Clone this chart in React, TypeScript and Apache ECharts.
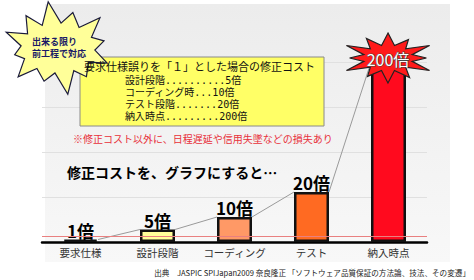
import React, { useEffect, useRef } from "react";
import * as echarts from "echarts";

const categories = ["要求仕様", "設計段階", "コーディング", "テスト", "納入時点"];
const costMultipliers = [1, 5, 10, 20, 200];
const barColors = ["#ffffff", "#ffff99", "#ff9966", "#ff6a22", "#ff0a1e"];
const referenceLevel = 2.4;
const boxTitle = "要求仕様誤りを「１」とした場合の修正コスト";
const boxLines = [
  "設計段階..........5倍",
  "コーディング時...10倍",
  "テスト段階.......20倍",
  "納入時点.........200倍",
];
const noteText = "※修正コスト以外に、日程遅延や信用失墜などの損失あり";
const headline = "修正コストを、グラフにすると…";
const burstLines = ["出来る限り", "前工程で対応"];
const sourceText = "出典　JASPIC SPIJapan2009 奈良隆正 「ソフトウェア品質保証の方法論、技法、その変遷」";

const FONT = "'Noto Sans CJK JP', 'Noto Sans', sans-serif";
const LIST_FONT = "'DejaVu Sans Mono', 'Noto Sans CJK JP', sans-serif";

function burst(
  cx: number,
  cy: number,
  rxo: number,
  ryo: number,
  rxi: number,
  ryi: number,
  mult: number[],
  rot: number
) {
  const n = mult.length;
  const pts: number[][] = [];
  for (let i = 0; i < n; i++) {
    const a = rot + (i * 2 * Math.PI) / n;
    pts.push([cx + rxo * mult[i] * Math.cos(a), cy + ryo * mult[i] * Math.sin(a)]);
    const b = a + Math.PI / n;
    pts.push([cx + rxi * Math.cos(b), cy + ryi * Math.sin(b)]);
  }
  return pts;
}

export default function App() {
  const ref = useRef<HTMLDivElement>(null);
  useEffect(() => {
    document.body.style.margin = "0";
    if (!ref.current) return;
    const chart = echarts.init(ref.current, undefined, { renderer: "svg" });
    const half = 17.5;
    const graphics: any[] = [
      {
        type: "rect",
        z: -10,
        shape: { x: 45, y: 4, width: 405, height: 258 },
        style: {
          fill: new echarts.graphic.LinearGradient(0, 0, 0, 1, [
            { offset: 0, color: "#ececec" },
            { offset: 1, color: "#f8f8f8" },
          ]),
        },
      },
      {
        type: "polygon",
        z: 50,
        shape: {
          points: burst(58, 48, 55, 47, 37, 25, [1, 0.8, 1, 0.85, 0.95, 0.8, 1, 0.75, 0.95, 0.8, 1, 0.9], -1.75),
        },
        style: { fill: "#ffff99", stroke: "#1a1a3a", lineWidth: 1.2 },
      },
      {
        type: "text",
        z: 51,
        x: 32,
        y: 47.5,
        style: {
          text: burstLines.join("\n"),
          fontSize: 9,
          lineHeight: 12.5,
          fontWeight: "bold",
          fontFamily: FONT,
          fill: "#1a1a66",
          verticalAlign: "middle",
        },
      },
      {
        type: "rect",
        z: 40,
        shape: { x: 80, y: 57, width: 244, height: 69 },
        style: { fill: "#ffff66", stroke: "#8a8a8a", lineWidth: 1 },
      },
      {
        type: "text",
        z: 52,
        x: 84,
        y: 66,
        style: { text: boxTitle, fontSize: 11, lineHeight: 12, fontFamily: FONT, fill: "#111", verticalAlign: "middle" },
      },
      {
        type: "text",
        z: 41,
        x: 125,
        y: 75,
        style: {
          text: boxLines.join("\n"),
          fontSize: 10,
          lineHeight: 11.8,
          fontFamily: LIST_FONT,
          fill: "#111",
          verticalAlign: "top",
        },
      },
      {
        type: "text",
        z: 41,
        x: 73,
        y: 138,
        style: { text: noteText, fontSize: 10, fontFamily: FONT, fill: "#e8303a", verticalAlign: "middle" },
      },
      {
        type: "text",
        z: 41,
        x: 67,
        y: 172,
        style: {
          text: headline,
          fontSize: 14,
          fontWeight: "bold",
          fontFamily: FONT,
          fill: "#000",
          verticalAlign: "middle",
        },
      },
      {
        type: "polygon",
        z: 50,
        shape: {
          points: burst(388, 58, 48, 25, 25, 13, [1, 0.85, 1, 0.8, 1, 0.9, 1, 0.85, 1, 0.8, 1, 0.9], -1.57),
        },
        style: { fill: "#ff1a1a", stroke: "#222", lineWidth: 1.2 },
      },
      {
        type: "text",
        z: 51,
        x: 388,
        y: 59,
        style: {
          text: `${costMultipliers[4]}倍`,
          fontSize: 16,
          fontFamily: FONT,
          fill: "#ffffff",
          stroke: "#444",
          lineWidth: 1,
          align: "center",
          verticalAlign: "middle",
        },
      },
      {
        type: "text",
        z: 41,
        x: 470,
        y: 272,
        style: {
          text: sourceText,
          fontSize: 7.6,
          fontFamily: FONT,
          fill: "#222",
          align: "right",
          verticalAlign: "middle",
        },
      },
    ];

    chart.setOption({
      animation: false,
      textStyle: { fontFamily: FONT },
      grid: { left: 42, right: 47, top: 62, bottom: 38 },
      xAxis: {
        type: "category",
        data: categories,
        axisLine: { lineStyle: { color: "#000", width: 2.5 } },
        axisTick: { show: false },
        axisLabel: { color: "#333", fontSize: 10.5, margin: 5, interval: 0, fontFamily: FONT },
      },
      yAxis: {
        type: "value",
        min: 0,
        max: 72,
        interval: 18,
        axisLabel: { show: false },
        axisLine: { show: false },
        axisTick: { show: false },
        splitLine: { lineStyle: { color: "#e0e0e0", width: 1 } },
      },
      series: [
        {
          type: "bar",
          barWidth: 35,
          clip: true,
          z: 3,
          data: costMultipliers.map((v, i) => ({
            value: v,
            itemStyle: { color: barColors[i] },
            label: i === costMultipliers.length - 1 ? { show: false } : undefined,
          })),
          itemStyle: { borderColor: "#111", borderWidth: 2.5 },
          label: {
            show: true,
            position: "top",
            distance: 1,
            formatter: "{c}倍",
            fontSize: 17,
            fontWeight: "bold",
            color: "#000",
            fontFamily: FONT,
          },
          markLine: {
            silent: true,
            symbol: "none",
            label: { show: false },
            lineStyle: { color: "#e98080", width: 1, type: "solid" },
            data: [{ yAxis: referenceLevel }],
          },
        },
        {
          type: "custom",
          silent: true,
          z: 2,
          data: costMultipliers.map((v, i) => [i, v]),
          encode: { x: 0, y: 1 },
          renderItem: (params: any, api: any) => {
            const i = params.dataIndex;
            if (i >= costMultipliers.length - 1) return null;
            const cs = params.coordSys;
            const p0 = api.coord([i, costMultipliers[i]]);
            const p1 = api.coord([i + 1, costMultipliers[i + 1]]);
            return {
              type: "line",
              shape: {
                x1: p0[0] + half,
                y1: Math.max(p0[1], cs.y),
                x2: p1[0] - half,
                y2: Math.max(p1[1], cs.y),
              },
              style: { stroke: "#9a9a9a", lineWidth: 1 },
            };
          },
        },
      ],
      graphic: graphics,
    });
    return () => chart.dispose();
  }, []);
  return <div ref={ref} style={{ width: 474, height: 280 }} />;
}
